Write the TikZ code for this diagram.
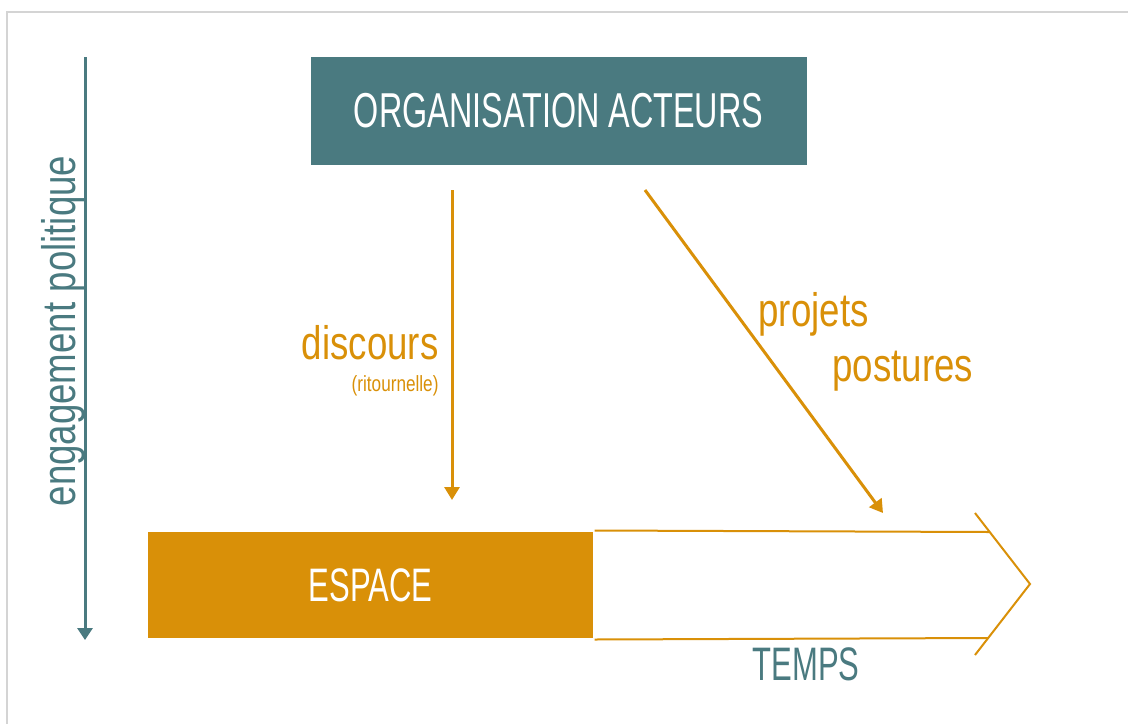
\documentclass[tikz,border=0pt]{standalone}
\usepackage{fontspec}
\newfontfamily\capsfont[FakeStretch=0.66]{Liberation Sans}
\newfontfamily\lowfont[FakeStretch=0.78]{Liberation Sans}
\usetikzlibrary{arrows.meta}

\begin{document}
\begin{tikzpicture}[x=1pt,y=-1pt,line width=3pt]
\definecolor{figteal}{RGB}{74,122,128}
\definecolor{figorange}{RGB}{217,144,8}
\definecolor{figframe}{RGB}{212,212,212}
\providecommand{\ftitle}{\capsfont\fontsize{49}{55}\selectfont}
\providecommand{\fcaps}{\capsfont\fontsize{47}{53}\selectfont}
\providecommand{\flow}{\lowfont\fontsize{47}{53}\selectfont}
\providecommand{\fsmall}{\lowfont\fontsize{22}{26}\selectfont}
\tikzset{
  orarrow/.style={draw=figorange,line width=3pt,-{Triangle[length=13pt,width=15pt]}},
  orlabel/.style={inner sep=0pt,font=\flow,text=figorange},
}
\useasboundingbox (0,0) rectangle (1128,724);
% frame
\draw[figframe,line width=2pt] (1128,12) -- (7,12) -- (7,724);
% axis
\coordinate (axtop) at (85,57);
\coordinate (axbot) at (85,640);
\draw[figteal,-{Triangle[length=12pt,width=15pt]}] (axtop) -- (axbot);
\node[rotate=90,inner sep=0pt,font=\flow,text=figteal] (engage) at (63,331) {engagement politique};
% boxes
\node[fill=figteal,minimum width=496pt,minimum height=108pt,inner sep=0pt,font=\ftitle,text=white] (org) at (558.5,111) {ORGANISATION ACTEURS};
\node[fill=figorange,minimum width=445pt,minimum height=106pt,inner sep=0pt,font=\fcaps,text=white] (espace) at (370.5,585) {ESPACE};
% time arrow
\coordinate (chtop) at (975,513);
\coordinate (chtip) at (1030,584);
\coordinate (chbot) at (975,655);
\draw[figorange,line width=2pt] (espace.north east) -- (989,532);
\draw[figorange,line width=2pt] (espace.south east) -- (988,638);
\draw[figorange,line width=2pt] (chtop) -- (chtip) -- (chbot);
\node[inner sep=0pt,font=\fcaps,text=figteal] (temps) at (806,664) {TEMPS};
% discours
\coordinate (dtop) at (452,190);
\coordinate (dbot) at (452,500);
\draw[orarrow] (dtop) -- (dbot);
\node[orlabel,anchor=base east] (disc) at (440,359) {discours};
\node[inner sep=0pt,font=\fsmall,text=figorange,anchor=base east] (ritour) at (440,391) {(ritournelle)};
% projets
\coordinate (ptop) at (645,190);
\coordinate (pbot) at (883,513);
\draw[orarrow] (ptop) -- (pbot);
\node[orlabel,anchor=base west] (proj) at (757,326) {projets};
\node[orlabel,anchor=base west] (post) at (831,381) {postures};
\end{tikzpicture}
\end{document}
